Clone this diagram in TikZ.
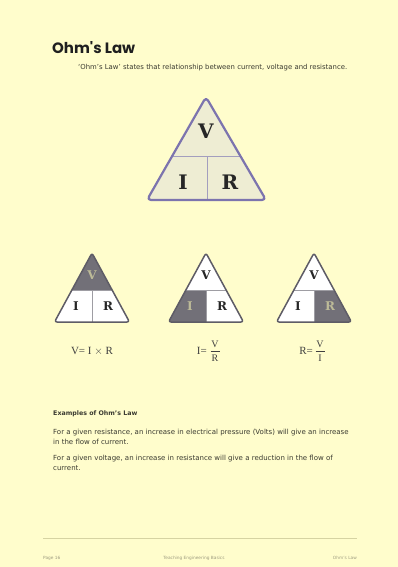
\documentclass[tikz,border=0pt]{standalone}
\usepackage{fontspec}
\setmainfont{DejaVu Sans}
\newfontfamily\titlefont{Poppins}
\newfontfamily\formfont{Liberation Serif}
\newfontfamily\letterfont{DejaVu Serif}
\definecolor{pagebg}{HTML}{FFFDCC}
\definecolor{bigfill}{HTML}{EEEDD3}
\definecolor{bigline}{HTML}{7C74AE}
\definecolor{bigdiv}{HTML}{A39EBE}
\definecolor{smline}{HTML}{5E5C66}
\definecolor{smdark}{HTML}{727078}
\definecolor{darkletter}{HTML}{BDBB98}
\definecolor{bodytext}{HTML}{3A3A30}
\definecolor{footline}{HTML}{D6D3A2}
\definecolor{foottext}{HTML}{9E9C80}
\tikzset{
  x=1pt, y=-1pt,
  bigletter/.style={font=\letterfont\bfseries\fontsize{20}{20}\selectfont, text=black!85},
  smletter/.style={font=\letterfont\bfseries\fontsize{12}{12}\selectfont, text=black!85},
  dkletter/.style={smletter, text=darkletter},
  formula/.style={font=\formfont\fontsize{11}{11}\selectfont, text=black!75, inner sep=0pt},
  fracpart/.style={font=\formfont\fontsize{10}{10}\selectfont, text=black!75, inner sep=0pt},
  fracbar/.style={black!75, line width=0.5pt},
  body/.style={font=\fontsize{7}{10}\selectfont, text=bodytext, align=left, anchor=north west, inner sep=0pt},
  foot/.style={font=\fontsize{4.3}{5}\selectfont, text=foottext, inner sep=0pt},
}
% small triangle: #1 apex x, #2 shaded part (1 top, 2 left, 3 right), #3 name, #4-#6 letter styles
\newcommand\OhmTri[6]{%
  \begin{scope}[shift={(#1,253)}]
    \coordinate (#3-apex) at (0,0);
    \coordinate (#3-bl) at (-37.5,69);
    \coordinate (#3-br) at (37.5,69);
    \begin{scope}
      \clip[rounded corners=2.5pt] (#3-apex) -- (#3-br) -- (#3-bl) -- cycle;
      \fill[white] (-40,-2) rectangle (40,71);
      \ifcase#2\or
        \fill[smdark] (-40,-2) rectangle (40,37);
      \or
        \fill[smdark] (-40,37) rectangle (0,71);
      \or
        \fill[smdark] (0,37) rectangle (40,71);
      \fi
      \draw[smline!60, line width=0.6pt] (-40,37) -- (40,37);
      \draw[smline!60, line width=0.6pt] (0,37) -- (0,71);
    \end{scope}
    \draw[smline, line width=1.5pt, rounded corners=2.5pt, line join=round]
      (#3-apex) -- (#3-br) -- (#3-bl) -- cycle;
    \node[#4] (#3-V) at (0,22) {V};
    \node[#5] (#3-I) at (-16,53) {I};
    \node[#6] (#3-R) at (16,53) {R};
  \end{scope}}
\begin{document}
\begin{tikzpicture}
\fill[pagebg] (0,0) rectangle (398,567);
\useasboundingbox (0,0) rectangle (398,567);

% title and intro
\node[anchor=base west, inner sep=0pt, font=\titlefont\bfseries\fontsize{15}{15}\selectfont, text=black!88] (title) at (52,54) {Ohm's Law};
\node[anchor=base west, inner sep=0pt, font=\fontsize{6.9}{7}\selectfont, text=bodytext] (intro) at (78,70) {`Ohm's Law' states that relationship between current, voltage and resistance.};

% large triangle
\coordinate (apex) at (206,97);
\coordinate (bl) at (147,200);
\coordinate (br) at (266,200);
\fill[bigfill, rounded corners=4pt] (apex) -- (br) -- (bl) -- cycle;
\begin{scope}
  \clip[rounded corners=4pt] (apex) -- (br) -- (bl) -- cycle;
  \draw[bigdiv, line width=0.8pt] (140,156) -- (270,156);
  \draw[bigdiv, line width=0.8pt] (207,156) -- (207,202);
\end{scope}
\draw[bigline, line width=2.2pt, rounded corners=4pt, line join=round] (apex) -- (br) -- (bl) -- cycle;
\node[bigletter] (V) at (206,131) {V};
\node[bigletter] (I) at (183,182) {I};
\node[bigletter] (R) at (230,182) {R};

% small triangles
\OhmTri{92}{1}{ta}{dkletter}{smletter}{smletter}
\OhmTri{206}{2}{tb}{smletter}{dkletter}{smletter}
\OhmTri{314}{3}{tc}{smletter}{smletter}{dkletter}

% formulas
\node[formula] (fa) at (92,351) {V= I $\times$ R};

\node[formula, anchor=east] (fb) at (207,351) {I=};
\node[fracpart] (fbn) at (215,344.5) {V};
\node[fracpart] (fbd) at (215,358.5) {R};
\coordinate (fbl) at (210.5,351.3);
\coordinate (fbr) at (219.5,351.3);
\draw[fracbar] (fbl) -- (fbr);

\node[formula, anchor=east] (fc) at (313,351) {R=};
\node[fracpart] (fcn) at (320,344.5) {V};
\node[fracpart] (fcd) at (320,358.5) {I};
\coordinate (fcl) at (315.5,351.3);
\coordinate (fcr) at (324.5,351.3);
\draw[fracbar] (fcl) -- (fcr);

% examples
\node[body, font=\bfseries\fontsize{6.3}{8}\selectfont] (exh) at (53,411) {Examples of Ohm's Law};
\node[body] (ex1) at (53,429) {For a given resistance, an increase in electrical pressure (Volts) will give an increase\\in the flow of current.};
\node[body] (ex2) at (53,455) {For a given voltage, an increase in resistance will give a reduction in the flow of\\current.};

% footer
\coordinate (fl) at (43,538);
\coordinate (fr) at (357,538);
\draw[footline, line width=1pt] (fl) -- (fr);
\node[foot, anchor=base west] (f1) at (43,559) {Page 16};
\node[foot, anchor=base] (f2) at (194,559) {Teaching Engineering Basics};
\node[foot, anchor=base east] (f3) at (357,559) {Ohm's Law};
\end{tikzpicture}
\end{document}
